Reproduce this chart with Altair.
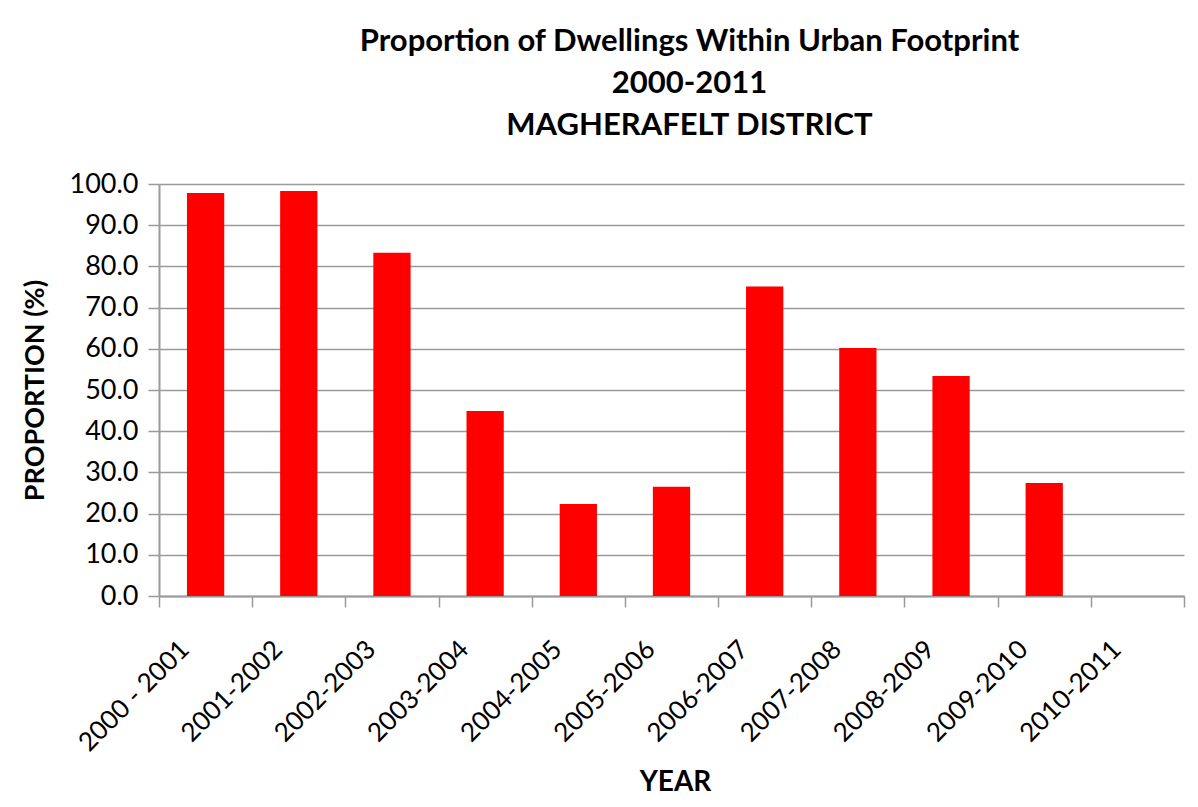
import altair as alt
import pandas as pd

periods = ["2000 - 2001", "2001-2002", "2002-2003", "2003-2004", "2004-2005",
           "2005-2006", "2006-2007", "2007-2008", "2008-2009", "2009-2010", "2010-2011"]
proportions = [97.8, 98.3, 83.3, 44.9, 22.3, 26.5, 75.1, 60.2, 53.4, 27.4, None]
y_ticks = [0, 10, 20, 30, 40, 50, 60, 70, 80, 90, 100]
title_lines = ["Proportion of Dwellings Within Urban Footprint", "2000-2011", "MAGHERAFELT DISTRICT"]

df = pd.DataFrame({"period": periods, "proportion": proportions})

FONT = "Lato"
GREY = "#9a9a9a"

chart = alt.Chart(df).mark_bar(color="#FF0000", width=alt.RelativeBandSize(0.4)).encode(
    x=alt.X(
        "period:N",
        sort=periods,
        scale=alt.Scale(domain=periods, paddingInner=0, paddingOuter=0),
        axis=alt.Axis(
            title="YEAR",
            labelAngle=-45, labelAlign="right", labelBaseline="middle",
            labelFont=FONT, labelFontSize=26, labelColor="black",
            labelPadding=38, labelOffset=-21, labelOverlap=False, labelLimit=400,
            tickBand="extent", tickSize=11, tickColor=GREY, tickWidth=1.5,
            domainColor=GREY, domainWidth=2,
            titleFont=FONT, titleFontSize=28, titleFontWeight="bold", titleColor="black",
            titleX=516, titleY=194, titleAlign="center", titleBaseline="alphabetic",
        ),
    ),
    y=alt.Y(
        "proportion:Q",
        scale=alt.Scale(domain=[0, 100], nice=False),
        axis=alt.Axis(
            title="PROPORTION (%)",
            values=y_ticks, format=".1f",
            labelFont=FONT, labelFontSize=27, labelColor="black", labelPadding=10,
            tickSize=11, tickColor=GREY, tickWidth=1.5,
            domainColor=GREY, domainWidth=2,
            gridColor=GREY, gridWidth=1.5,
            titleFont=FONT, titleFontSize=27, titleFontWeight="bold", titleColor="black",
            titleAngle=-90, titleX=-124, titleY=206, titleAlign="center", titleBaseline="middle",
        ),
    ),
).properties(
    width=1025,
    height=412,
    title=alt.TitleParams(
        text=title_lines, font=FONT, fontSize=31, fontWeight="bold", color="black",
        anchor="middle", dx=18, lineHeight=42, offset=28,
    ),
    autosize=alt.AutoSizeParams(type="none"),
    padding={"left": 151, "top": 176, "right": 6, "bottom": 205},
).configure_view(strokeWidth=0)

chart.save("out.html", embed_options={"renderer": "svg", "actions": False})
